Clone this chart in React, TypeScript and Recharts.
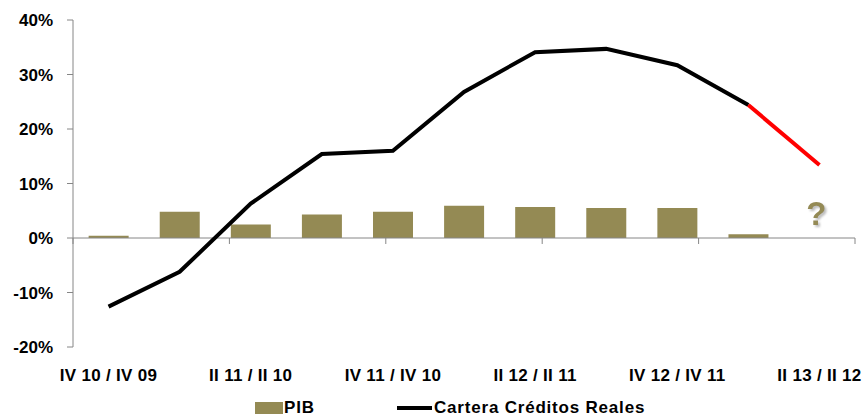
import React from 'react';
import {
  ComposedChart,
  Bar,
  Line,
  XAxis,
  YAxis,
  ReferenceLine,
  ReferenceDot,
  Legend,
} from 'recharts';

const categories = [
  'IV 10 / IV 09',
  'I 11 / I 10',
  'II 11 / II 10',
  'III 11 / III 10',
  'IV 11 / IV 10',
  'I 12 / I 11',
  'II 12 / II 11',
  'III 12 / III 11',
  'IV 12 / IV 11',
  'I 13 / I 12',
  'II 13 / II 12',
];
const pib = [0.4, 4.8, 2.5, 4.3, 4.8, 5.9, 5.7, 5.5, 5.5, 0.7, null];
const cartera = [-12.6, -6.2, 6.3, 15.4, 16.0, 26.8, 34.1, 34.7, 31.7, 24.4, null];
const proyeccion = [null, null, null, null, null, null, null, null, null, 24.4, 13.4];
const yTicks = [-20, -10, 0, 10, 20, 30, 40];
const boundaryTicks = [0, 2, 4, 6, 8, 10, 11];

const data = categories.map((c, i) => ({
  name: c,
  pib: pib[i],
  cartera: cartera[i],
  proyeccion: proyeccion[i],
}));

const OLIVE = '#948A54';
const FONT = '"Liberation Sans", Arial, sans-serif';

function QuestionMark(props: any) {
  const { viewBox } = props;
  const x = viewBox.x + (viewBox.width || 0) / 2;
  const y = viewBox.y + (viewBox.height || 0) / 2;
  return (
    <g>
      <defs>
        <filter id="qshadow" x="-50%" y="-50%" width="200%" height="200%">
          <feDropShadow dx="2" dy="2" stdDeviation="0.8" floodColor="#bdbdbd" />
        </filter>
      </defs>
      <text
        x={x - 3}
        y={y + 12}
        fill={OLIVE}
        fontFamily={FONT}
        fontWeight="bold"
        fontSize={33}
        textAnchor="middle"
        filter="url(#qshadow)"
      >
        ?
      </text>
    </g>
  );
}

function LegendContent() {
  return (
    <div
      style={{
        display: 'flex',
        justifyContent: 'flex-start',
        alignItems: 'center',
        fontFamily: FONT,
        fontWeight: 'bold',
        fontSize: 17,
        letterSpacing: 0.8,
        color: '#000',
        paddingLeft: 255,
        paddingTop: 9,
        lineHeight: '18px',
      }}
    >
      <span style={{ display: 'inline-block', width: 28, height: 12, background: OLIVE }} />
      <span style={{ marginLeft: 1, width: 113 }}>PIB</span>
      <span style={{ display: 'inline-block', width: 35, height: 4, background: '#000' }} />
      <span style={{ marginLeft: 2 }}>Cartera Créditos Reales</span>
    </div>
  );
}

export default function App() {
  return (
    <div style={{ position: 'absolute', left: 0, top: 0, width: 866, height: 416, background: '#fff' }}>
      <ComposedChart
        width={866}
        height={416}
        data={data}
        margin={{ top: 20, right: 11, left: 0, bottom: 4 }}
        barCategoryGap="22%"
      >
        <XAxis
          dataKey="name"
          interval={1}
          axisLine={false}
          tickLine={false}
          tickSize={0}
          tickMargin={22}
          height={43}
          tick={{ fontFamily: FONT, fontWeight: 'bold', fontSize: 17, fill: '#000', letterSpacing: 0.3 }}
        />
        <XAxis xAxisId="num" type="number" domain={[0, 11]} hide />
        <YAxis
          domain={[-20, 40]}
          ticks={yTicks}
          tickFormatter={(v: number) => `${v}%`}
          width={73}
          tickSize={6}
          tickMargin={14}
          interval={0}
          axisLine={{ stroke: '#868686' }}
          tickLine={{ stroke: '#868686' }}
          tick={{ fontFamily: FONT, fontWeight: 'bold', fontSize: 17, fill: '#000' }}
        />
        <ReferenceLine y={0} stroke="#868686" />
        {boundaryTicks.map((b) => (
          <ReferenceLine
            key={b}
            xAxisId="num"
            stroke="#868686"
            segment={[
              { x: b, y: 0 },
              { x: b, y: -1.1 },
            ]}
          />
        ))}
        <Legend verticalAlign="bottom" height={22} content={<LegendContent />} />
        <Bar dataKey="pib" name="PIB" fill={OLIVE} isAnimationActive={false} />
        <Line
          dataKey="cartera"
          name="Cartera Créditos Reales"
          stroke="#000"
          strokeWidth={4}
          dot={false}
          type="linear"
          isAnimationActive={false}
        />
        <Line
          dataKey="proyeccion"
          stroke="#ff0000"
          strokeWidth={4}
          dot={false}
          type="linear"
          legendType="none"
          isAnimationActive={false}
        />
        <ReferenceDot x={categories[10]} y={4.5} r={0} label={<QuestionMark />} />
      </ComposedChart>
    </div>
  );
}
